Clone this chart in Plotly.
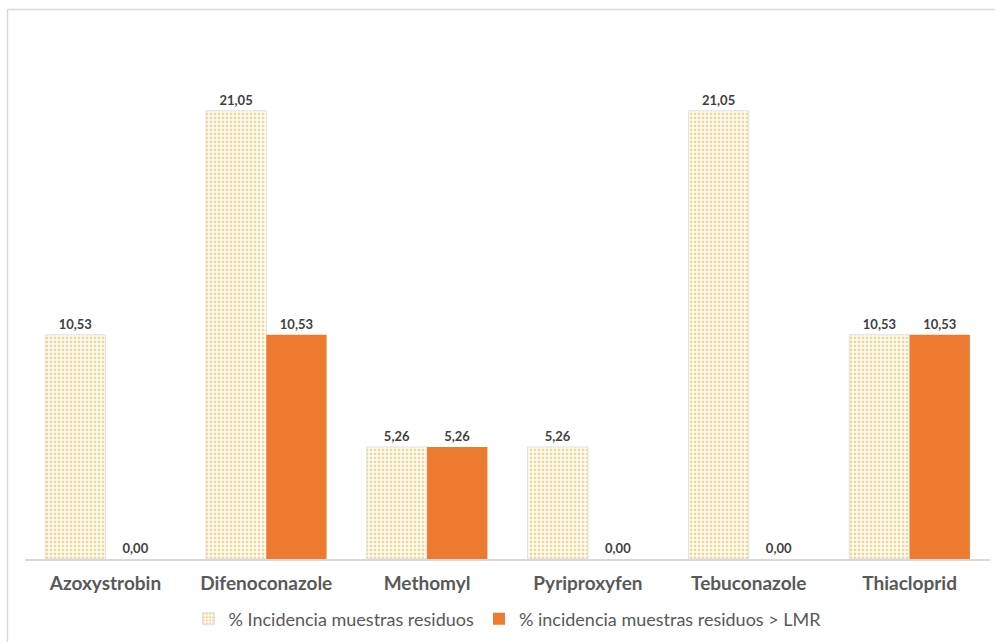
import plotly.graph_objects as go

# Pesticide residue incidence by active substance (%)
categories = ["Azoxystrobin", "Difenoconazole", "Methomyl", "Pyriproxyfen", "Tebuconazole", "Thiacloprid"]
incidencia_residuos = [10.53, 21.05, 5.26, 5.26, 21.05, 10.53]
incidencia_lmr = [0.00, 10.53, 5.26, 0.00, 0.00, 10.53]

series_names = ["% Incidencia muestras residuos", "% incidencia muestras residuos > LMR"]

W, H = 995, 642
L, R, T, B = 25, 5, 48, 83
plot_w = W - L - R
plot_h = H - T - B

label_font = dict(family="Lato, Open Sans, sans-serif", size=13, color="#404040")

fig = go.Figure()
fig.add_trace(go.Bar(
    x=categories, y=incidencia_residuos, name=series_names[0],
    marker=dict(
        color="white",
        line=dict(color="#E0E0E0", width=1),
        pattern=dict(shape=".", fgcolor="#E2AE33", bgcolor="#FFFEF9", size=4, solidity=0.4),
    ),
    texttemplate="<b>%{y:.2f}</b>", textposition="outside", textfont=label_font,
    cliponaxis=False,
))
fig.add_trace(go.Bar(
    x=categories, y=incidencia_lmr, name=series_names[1],
    marker=dict(color="#EE7A30", line=dict(color="#EE7A30", width=0)),
    texttemplate="<b>%{y:.2f}</b>", textposition="outside", textfont=label_font,
    cliponaxis=False,
))

# chart frame (top and left edges)
fx0 = (7.5 - L) / plot_w
fy1 = (H - B - 9.5) / plot_h
frame = dict(color="#D9D9D9", width=1.5)
fig.add_shape(type="line", xref="paper", yref="paper", x0=fx0, x1=(W + 5 - L) / plot_w, y0=fy1, y1=fy1, line=frame)
fig.add_shape(type="line", xref="paper", yref="paper", x0=fx0, x1=fx0, y0=fy1, y1=-(B + 5) / plot_h, line=frame)

fig.update_layout(
    width=W, height=H,
    margin=dict(l=L, r=R, t=T, b=B),
    paper_bgcolor="white", plot_bgcolor="white",
    separators=",.",
    barmode="group", bargap=0.25, bargroupgap=0,
    showlegend=True,
    legend=dict(
        orientation="h", x=0.5, xanchor="center", y=-(619 - (H - B)) / plot_h, yanchor="middle",
        font=dict(family="Lato, Open Sans, sans-serif", size=18, color="#595959"),
        itemwidth=30, traceorder="normal",
    ),
    xaxis=dict(
        showline=True, linecolor="#D9D9D9", linewidth=1.5,
        ticks="", ticklabelstandoff=6,
        tickfont=dict(family="Lato, Open Sans, sans-serif", size=19, color="#595959", weight="bold"),
        showgrid=False, zeroline=False,
    ),
    yaxis=dict(range=[0, 24], visible=False, showgrid=False, zeroline=False),
)

fig.write_html("out.html")
